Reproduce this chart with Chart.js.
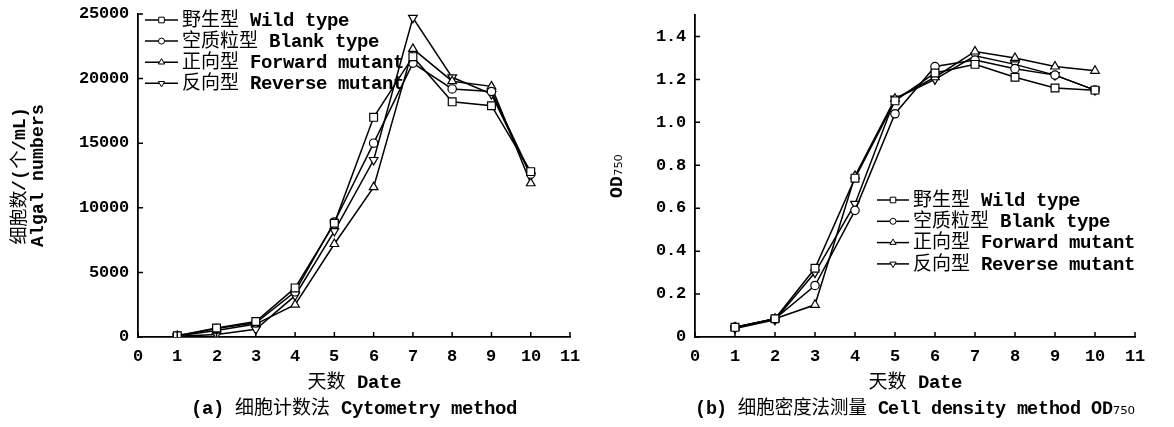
<!DOCTYPE html>
<html lang="zh">
<head>
    <meta charset="UTF-8">
    <title>Algal growth curves</title>
    <style>
        /* bold mono latin, regular CJK; subscript digits left to a proportional font */
        @font-face {
            font-family: 'MonoB';
            src: local('Liberation Mono Bold'), local('LiberationMono-Bold');
            unicode-range: U+0000-207F, U+2090-2FFF;
        }
        body {
            margin: 0;
            background: #fff;
            width: 1174px;
            height: 427px;
            position: relative;
            overflow: hidden;
        }
        .panel {
            position: absolute;
            top: 0;
        }
        #panelA { left: 0; }
        #panelB { left: 590px; }
    </style>
</head>
<body>

    <div class="panel" id="panelA"><canvas id="chartA" width="590" height="427"></canvas></div>
    <div class="panel" id="panelB"><canvas id="chartB" width="584" height="427"></canvas></div>

    <script src="https://cdn.jsdelivr.net/npm/chart.js"></script>
    <script>
        // days sampled
        const days = [1, 2, 3, 4, 5, 6, 7, 8, 9, 10];
        const seriesNames = ['野生型 Wild type', '空质粒型 Blank type', '正向型 Forward mutant', '反向型 Reverse mutant'];

        // (a) cell counts
        const countWild    = [100, 700, 1200, 3800, 8800, 17000, 21700, 18200, 17900, 12800];
        const countBlank   = [100, 650, 1100, 3500, 8900, 15000, 21200, 19200, 19000, 12600];
        const countForward = [80, 500, 1000, 2500, 7200, 11600, 22300, 19800, 19400, 11900];
        const countReverse = [50, 200, 600, 3200, 8200, 13700, 24700, 20100, 18800, 12500];

        // (b) OD750
        const odWild    = [0.045, 0.085, 0.32, 0.74, 1.10, 1.23, 1.27, 1.21, 1.16, 1.15];
        const odBlank   = [0.045, 0.085, 0.24, 0.59, 1.04, 1.26, 1.29, 1.25, 1.22, 1.15];
        const odForward = [0.045, 0.085, 0.15, 0.75, 1.11, 1.21, 1.33, 1.30, 1.26, 1.24];
        const odReverse = [0.04, 0.08, 0.30, 0.62, 1.11, 1.20, 1.31, 1.27, 1.22, 1.15];

        const dayTicks = [0, 1, 2, 3, 4, 5, 6, 7, 8, 9, 10, 11];

        const FONT = 'MonoB, "DejaVu Sans", "Noto Sans CJK SC", monospace';
        const markerStyles = ['rect', 'circle', 'triangle', 'triangle'];
        const markerRotation = [0, 0, 0, 180];
        const markerRadius = [5.5, 4.2, 5, 5];

        // ticks drawn on the inside of the axes
        const innerTicks = {
            id: 'innerTicks',
            afterDraw(chart) {
                const ctx = chart.ctx;
                const xs = chart.scales.x, ys = chart.scales.y;
                ctx.save();
                ctx.strokeStyle = '#000';
                ctx.lineWidth = 1.5;
                ctx.beginPath();
                xs.ticks.forEach(t => {
                    const px = xs.getPixelForValue(t.value);
                    ctx.moveTo(px, xs.top);
                    ctx.lineTo(px, xs.top - 5);
                });
                ys.ticks.forEach(t => {
                    const py = ys.getPixelForValue(t.value);
                    ctx.moveTo(ys.right, py);
                    ctx.lineTo(ys.right + 5, py);
                });
                ctx.stroke();
                ctx.restore();
            }
        };

        // legend with line-marker-line symbols, placed inside the plot
        const markerLegend = {
            id: 'markerLegend',
            afterDraw(chart, args, opts) {
                const ctx = chart.ctx;
                const area = chart.chartArea;
                const x0 = area.left + opts.dx;
                const y0 = area.top + opts.dy;
                ctx.save();
                chart.data.datasets.forEach((ds, i) => {
                    const y = y0 + i * opts.rowH;
                    ctx.strokeStyle = '#000';
                    ctx.lineWidth = 1.5;
                    ctx.beginPath();
                    ctx.moveTo(x0, y);
                    ctx.lineTo(x0 + opts.lineLen, y);
                    ctx.stroke();
                    ctx.fillStyle = '#fff';
                    ctx.lineWidth = 1;
                    Chart.helpers.drawPoint(ctx, {
                        pointStyle: ds.pointStyle,
                        rotation: ds.pointRotation || 0,
                        radius: ds.pointRadius * 0.72,
                        borderWidth: 1
                    }, x0 + opts.lineLen / 2, y);
                    ctx.fillStyle = '#000';
                    ctx.font = '19px ' + FONT;
                    ctx.textBaseline = 'middle';
                    ctx.fillText(ds.label, x0 + opts.lineLen + 4, y + 1);
                });
                ctx.restore();
            }
        };

        function buildDatasets(seriesList) {
            return seriesList.map((vals, i) => ({
                label: seriesNames[i],
                data: days.map((d, k) => ({ x: d, y: vals[k] })),
                borderColor: '#000',
                borderWidth: 1.5,
                backgroundColor: '#fff',
                pointStyle: markerStyles[i],
                pointRotation: markerRotation[i],
                pointRadius: markerRadius[i],
                pointBorderWidth: 1.2,
                pointBackgroundColor: '#fff',
                pointBorderColor: '#000',
                tension: 0
            }));
        }

        function makeChart(id, seriesList, cfg) {
            return new Chart(document.getElementById(id), {
                type: 'line',
                data: { datasets: buildDatasets(seriesList) },
                options: {
                    responsive: false,
                    animation: false,
                    layout: { padding: { top: cfg.top, right: cfg.right, left: 0, bottom: 0 } },
                    plugins: {
                        legend: { display: false },
                        tooltip: { enabled: false },
                        markerLegend: cfg.legend
                    },
                    scales: {
                        x: {
                            type: 'linear',
                            min: 0,
                            max: 11,
                            afterBuildTicks: s => { s.ticks = dayTicks.map(v => ({ value: v })); },
                            afterFit: s => { s.height = 90; },
                            grid: { display: false, drawTicks: false },
                            border: { display: true, color: '#000', width: 1.8 },
                            ticks: {
                                padding: 10,
                                color: '#000',
                                maxRotation: 0,
                                font: { family: FONT, size: 17 },
                                callback: v => String(v)
                            },
                            title: {
                                display: true,
                                text: cfg.xTitle,
                                color: '#000',
                                font: { family: FONT, size: 19, lineHeight: 1.37 },
                                padding: { top: 0, bottom: 5 }
                            }
                        },
                        y: {
                            min: 0,
                            max: cfg.yMax,
                            afterBuildTicks: s => { s.ticks = cfg.yTicks.map(v => ({ value: v })); },
                            afterFit: s => {
                                s.width = cfg.yWidth;
                                s.paddingTop = 0;
                                s.paddingBottom = 0;
                            },
                            grid: { display: false, drawTicks: false },
                            border: { display: true, color: '#000', width: 1.8 },
                            ticks: {
                                padding: 9,
                                color: '#000',
                                font: { family: FONT, size: 17 },
                                callback: cfg.yFormat
                            },
                            title: {
                                display: true,
                                text: cfg.yTitle,
                                color: '#000',
                                font: { family: FONT, size: 18, lineHeight: 1.0 },
                                padding: { top: cfg.yTitlePad, bottom: 0 }
                            }
                        }
                    }
                },
                plugins: [innerTicks, markerLegend]
            });
        }

        function drawAll() {
            makeChart('chartA', [countWild, countBlank, countForward, countReverse], {
                top: 14,
                right: 18,
                yWidth: 138,
                yMax: 25000,
                yTicks: [0, 5000, 10000, 15000, 20000, 25000],
                yFormat: v => String(v),
                yTitle: ['细胞数/(个/mL)', 'Algal numbers'],
                yTitlePad: 11,
                xTitle: ['天数 Date', '(a) 细胞计数法 Cytometry method'],
                legend: { dx: 7, dy: 6, rowH: 21.1, lineLen: 33 }
            });

            makeChart('chartB', [odWild, odBlank, odForward, odReverse], {
                top: 15,
                right: 39,
                yWidth: 105,
                yMax: 1.5,
                yTicks: [0, 0.2, 0.4, 0.6, 0.8, 1.0, 1.2, 1.4],
                yFormat: v => (v === 0 ? '0' : v.toFixed(1)),
                yTitle: 'OD₇₅₀',
                yTitlePad: 18,
                xTitle: ['天数 Date', '(b) 细胞密度法测量 Cell density method OD₇₅₀'],
                legend: { dx: 182, dy: 185, rowH: 21.3, lineLen: 32 }
            });
        }

        // wait for the local font alias before drawing
        document.fonts.load('17px MonoB').then(drawAll, drawAll);
    </script>
</body>
</html>
